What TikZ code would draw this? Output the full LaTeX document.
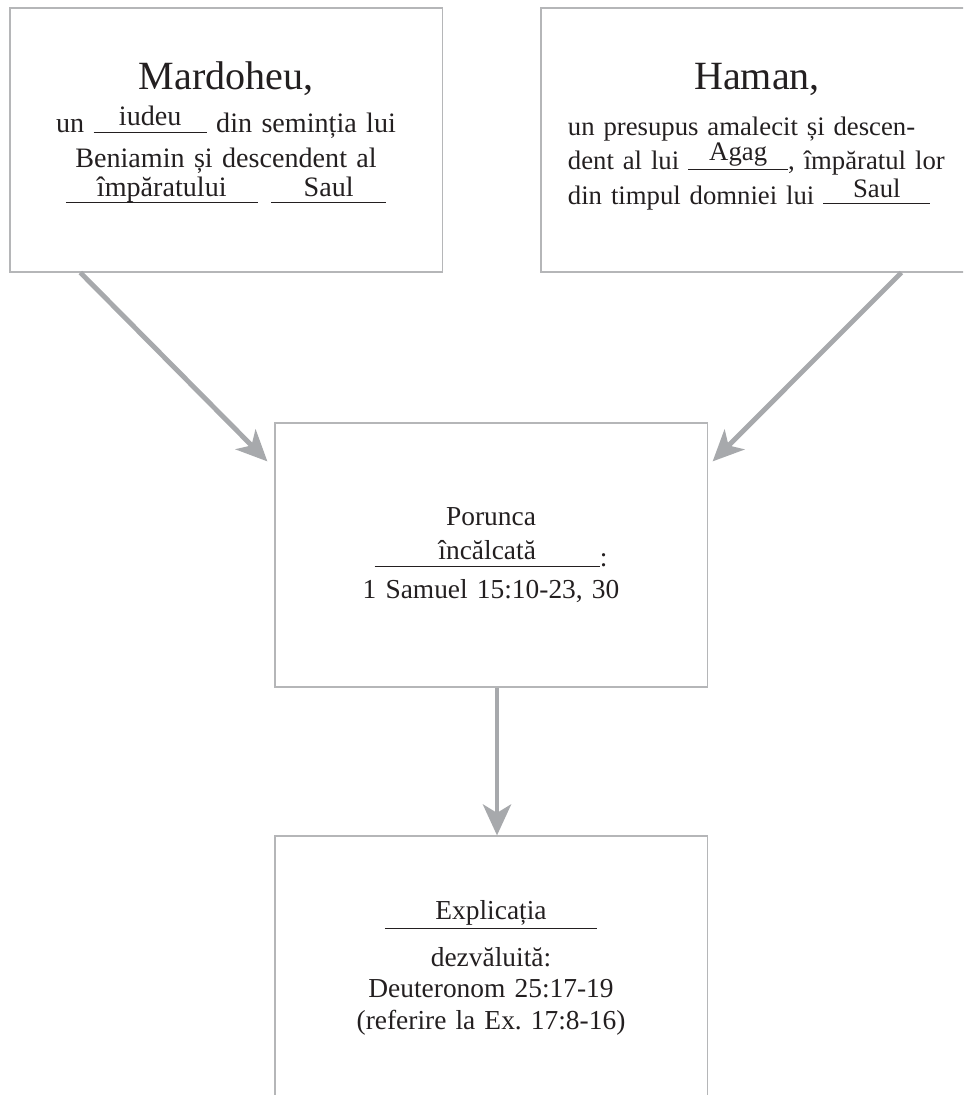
\documentclass[tikz,border=0pt]{standalone}
\usepackage{fontspec}
\setmainfont{Liberation Serif}
\usepackage{xcolor}
\usetikzlibrary{arrows.meta,calc}
\definecolor{boxgray}{HTML}{B5B6B8}
\definecolor{arrowgray}{HTML}{A7A9AC}
\definecolor{inkblack}{HTML}{231F20}
\frenchspacing
\tikzset{%
	box/.style      = {draw=boxgray, line width=0.8pt, rectangle, minimum width=10.8cm, minimum height=6.6cm, inner sep=0pt, text width=10.4cm, align=center, text=inkblack, font=\fontsize{20}{25}\selectfont},
	rightbox/.style = {box, font=\fontsize{19}{24.5}\selectfont},
	lowbox/.style   = {box, font=\fontsize{19.5}{22.5}\selectfont},
	arrow/.style    = {draw=arrowgray, line width=3.5pt, -{Stealth[length=22pt,width=20pt,inset=6pt]}},
}
\newcommand{\fillin}[3][0.25em]{\leavevmode\rlap{\rule{#2}{0.7pt}}\makebox[#2]{\raisebox{#1}{#3}}}
\newcommand{\Title}[1]{{\fontsize{28.5}{30}\selectfont #1}}

\begin{document}
\begin{tikzpicture}[x=0.025cm, y=-0.025cm]
	\useasboundingbox (0,0) rectangle (963,1095);
	\clip (0,0) rectangle (963,1095);
	
	\node[box] (mard) at (226,140) {\Title{Mardoheu,}\\[6pt] un \fillin{2.83cm}{iudeu} din seminția lui\\ Beniamin și descendent al\\ \fillin{4.8cm}{împăratului}\hspace{0.33cm}\fillin{2.88cm}{Saul}\par\vspace*{11pt}};
	\node[rightbox] (haman) at (757,140) {\Title{Haman,}\\[8pt] \makebox[9.45cm][s]{un presupus amalecit și descen-}\\ \makebox[9.45cm][s]{dent al lui \fillin[0.35em]{2.5cm}{Agag}, împăratul lor}\\ \makebox[9.45cm][l]{din timpul domniei lui \fillin{2.68cm}{Saul}}\par\vspace*{5pt}};
	
	\node[lowbox] (porunca) at (491,555) {\vspace*{7pt}Porunca\\ \fillin{5.63cm}{încălcată}:\\ 1 Samuel 15:10-23, 30};
	\node[lowbox] (expl) at (491,968) {\fillin[0.33em]{5.3cm}{Explicația}\\[4pt] dezvăluită:\\ Deuteronom 25:17-19\\ (referire la Ex. 17:8-16)};
	
	\draw[arrow] ($(mard.south west)+(71,0)$) -- ($(porunca.north west)+(-7,39)$);
	\draw[arrow] ($(haman.south west)+(361,0)$) -- ($(porunca.north east)+(5,39)$);
	\draw[arrow] ($(porunca.south)+(6,0)$) -- ($(expl.north)+(6,0)$);
\end{tikzpicture}
\end{document}
